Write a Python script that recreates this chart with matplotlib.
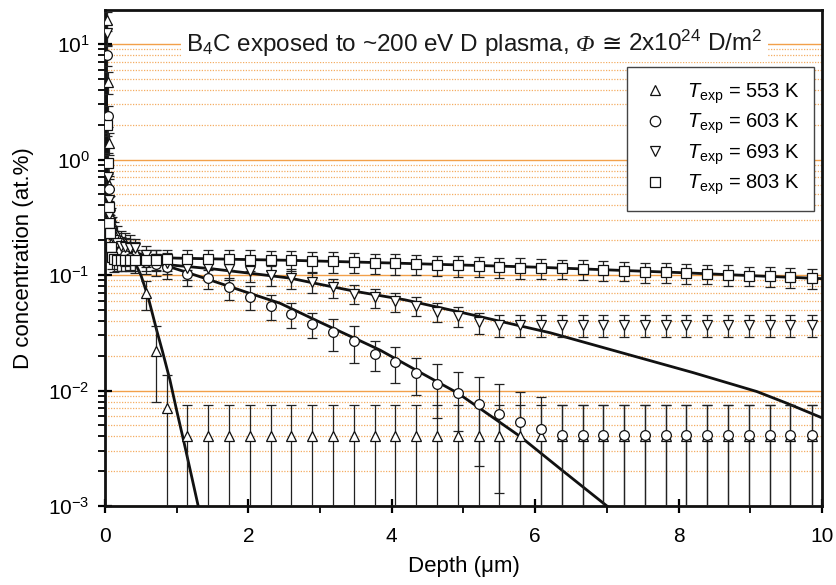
import matplotlib
matplotlib.use('Agg')
import matplotlib.pyplot as plt
from matplotlib.lines import Line2D
from matplotlib.offsetbox import TextArea, HPacker, AnnotationBbox
from matplotlib.ticker import LogLocator, LogFormatterMathtext, MultipleLocator, NullFormatter

plt.rcParams['font.family'] = ['Liberation Sans', 'DejaVu Sans']
plt.rcParams['mathtext.fontset'] = 'custom'
plt.rcParams['mathtext.rm'] = 'Liberation Sans'
plt.rcParams['mathtext.it'] = 'Liberation Sans:italic'
plt.rcParams['mathtext.bf'] = 'Liberation Sans:bold'
plt.rcParams['mathtext.fallback'] = 'stix'

# ---------------- data ----------------
depth_near = [0.03, 0.04, 0.05, 0.06, 0.07, 0.08, 0.10, 0.13, 0.17, 0.22, 0.28, 0.35,
              0.42, 0.57, 0.715, 0.86]
depth_main = [1.15, 1.44, 1.73, 2.02, 2.31, 2.60, 2.89, 3.18, 3.47, 3.76, 4.05, 4.34,
              4.63, 4.92, 5.21, 5.50, 5.79, 6.08, 6.37, 6.66, 6.95, 7.24, 7.53, 7.82,
              8.11, 8.40, 8.69, 8.98, 9.27, 9.56, 9.86]

labels = ['553 K', '603 K', '693 K', '803 K']
markers = ['^', 'o', 'v', 's']

c553 = [16, 4.7, 1.4, 0.6, 0.4, 0.32, 0.27, 0.24, 0.22, 0.2, 0.19, 0.18, 0.16, 0.0695, 0.022, 0.0071,
        0.004, 0.004, 0.004, 0.004, 0.004, 0.004, 0.004, 0.004, 0.004, 0.004, 0.004, 0.004,
        0.004, 0.004, 0.004, 0.004, 0.004, 0.004, 0.004, 0.004, 0.004, 0.004, 0.004, 0.004,
        0.004, 0.004, 0.004, 0.004, 0.004, 0.004, 0.004]
e553 = [3, 1, 0.3, 0.12, 0.08, 0.06, 0.05, 0.05, 0.045, 0.04, 0.04, 0.04, 0.035, 0.02, 0.014, 0.0065,
        0.0035, 0.0035, 0.0035, 0.0035, 0.0035, 0.0035, 0.0035, 0.0035, 0.0035, 0.0035, 0.0035,
        0.0035, 0.0035, 0.0035, 0.0035, 0.0035, 0.0035, 0.0035, 0.0035, 0.0035, 0.0035, 0.0035,
        0.0035, 0.0035, 0.0035, 0.0035, 0.0035, 0.0035, 0.0035, 0.0035, 0.0035]

c603 = [8.0, 2.4, 0.56, 0.4, 0.3, 0.26, 0.22, 0.19, 0.17, 0.16, 0.15, 0.14, 0.135, 0.13, 0.125, 0.117,
        0.103, 0.095, 0.078, 0.065, 0.054, 0.046, 0.0376, 0.032, 0.0268, 0.0207, 0.0177, 0.0141,
        0.0114, 0.0095, 0.0076, 0.0063, 0.0053, 0.0046, 0.0041, 0.0041, 0.0041, 0.0041, 0.0041,
        0.0041, 0.0041, 0.0041, 0.0041, 0.0041, 0.0041, 0.0041, 0.0041]
e603 = [1.6, 0.5, 0.12, 0.08, 0.06, 0.05, 0.045, 0.04, 0.035, 0.035, 0.03, 0.03, 0.03, 0.028, 0.026, 0.024,
        0.022, 0.02, 0.017, 0.015, 0.013, 0.011, 0.009, 0.01, 0.0095, 0.006, 0.006, 0.005,
        0.0056, 0.005, 0.0054, 0.005, 0.0045, 0.0041, 0.0034, 0.0034, 0.0034, 0.0034, 0.0034,
        0.0034, 0.0034, 0.0034, 0.0034, 0.0034, 0.0034, 0.0034, 0.0034]

c693 = [12.4, 0.71, 0.45, 0.33, 0.27, 0.24, 0.22, 0.2, 0.19, 0.18, 0.175, 0.17, 0.171, 0.148, 0.138, 0.128,
        0.116, 0.115, 0.112, 0.108, 0.100, 0.094, 0.087, 0.078, 0.069, 0.064, 0.059, 0.054,
        0.048, 0.044, 0.039, 0.037, 0.037, 0.037, 0.037, 0.037, 0.037, 0.037, 0.037, 0.037,
        0.037, 0.037, 0.037, 0.037, 0.037, 0.037, 0.037]
e693 = [2.5, 0.15, 0.1, 0.07, 0.06, 0.05, 0.045, 0.04, 0.04, 0.035, 0.035, 0.035, 0.035, 0.03, 0.028, 0.026,
        0.025, 0.024, 0.022, 0.021, 0.02, 0.019, 0.017, 0.015, 0.013, 0.012, 0.011, 0.01,
        0.009, 0.0085, 0.008, 0.008, 0.008, 0.008, 0.008, 0.008, 0.008, 0.008, 0.008, 0.008,
        0.008, 0.008, 0.008, 0.008, 0.008, 0.008, 0.008]

c803 = [2.0, 0.94, 0.39, 0.28, 0.23, 0.176, 0.144, 0.137, 0.136, 0.136, 0.136, 0.136, 0.136, 0.136, 0.136, 0.137,
        0.138, 0.137, 0.137, 0.136, 0.135, 0.134, 0.132, 0.131, 0.129, 0.128, 0.126, 0.124,
        0.123, 0.121, 0.120, 0.118, 0.116, 0.115, 0.114, 0.112, 0.111, 0.109, 0.107, 0.106,
        0.104, 0.103, 0.101, 0.099, 0.098, 0.096, 0.094]
e803 = [0.4, 0.19, 0.08, 0.06, 0.05, 0.04, 0.032, 0.03, 0.028, 0.028, 0.028, 0.028, 0.028, 0.028, 0.028, 0.028,
        0.027, 0.027, 0.027, 0.027, 0.026, 0.026, 0.026, 0.026, 0.025, 0.025, 0.025, 0.024,
        0.024, 0.024, 0.024, 0.023, 0.023, 0.023, 0.022, 0.022, 0.022, 0.021, 0.021, 0.021,
        0.020, 0.020, 0.020, 0.019, 0.019, 0.019, 0.018]

# fitted curves
fit_near_x = [0.0, 0.01, 0.02, 0.03, 0.05, 0.08, 0.12, 0.18, 0.26, 0.34]
fit_near_y = [30, 10, 3.5, 1.3, 0.5, 0.3, 0.22, 0.185, 0.165, 0.155]
fit553_x = [0.4, 0.5, 0.6, 0.72, 0.8, 0.906, 1.0, 1.1, 1.2, 1.3, 1.36]
fit553_y = [0.135, 0.1, 0.065, 0.0334, 0.022, 0.0123, 0.0067, 0.0036, 0.0019, 0.001, 0.0007]
fit603_x = [0.4, 0.86, 1.15, 1.5, 2.0, 2.44, 3.0, 3.5, 3.835, 4.4, 4.92, 5.4, 5.79, 6.37, 7.0, 7.1]
fit603_y = [0.145, 0.12, 0.105, 0.089, 0.07, 0.057, 0.039, 0.028, 0.0224, 0.0143, 0.0095, 0.0059,
            0.0040, 0.00205, 0.001, 0.0009]
fit693_x = [0.4, 0.86, 1.5, 2.0, 2.58, 3.0, 3.5, 4.18, 5.0, 6.21, 7.32, 8.2, 9.09, 9.5, 10.0]
fit693_y = [0.16, 0.123, 0.113, 0.104, 0.094, 0.083, 0.072, 0.061, 0.047, 0.0316, 0.0203, 0.0143,
            0.0098, 0.0078, 0.0058]
fit803_x = [0.4, 1.0, 2.0, 2.6, 4.0, 6.0, 8.0, 10.0]
fit803_y = [0.145, 0.14, 0.136, 0.134, 0.127, 0.117, 0.105, 0.093]

title_parts = [r'B$_4$C exposed to ~200 eV D plasma,', 'Φ', '≅', r'2x10$^{24}$ D/m$^2$']
xlabel = 'Depth (μm)'
ylabel = 'D concentration (at.%)'

# ---------------- plot ----------------
fig = plt.figure(figsize=(8.36, 5.85), dpi=100)
ax = fig.add_axes([0.1256, 0.13504, 0.85765, 0.84787])
ax.set_yscale('log')
ax.set_xlim(0, 10)
ax.set_ylim(1e-3, 19.7)
ax.set_axisbelow(True)

ax.yaxis.grid(True, which='major', color='#f2a04a', lw=1.0, ls='-')
ax.yaxis.grid(True, which='minor', color='#f4ad62', lw=0.9, ls=(0, (1, 1.2)))

depth = depth_near + depth_main
series = [(c553, e553), (c603, e603), (c693, e693), (c803, e803)]
fits = [(fit553_x, fit553_y), (fit603_x, fit603_y), (fit693_x, fit693_y), (fit803_x, fit803_y)]

for fx, fy in fits:
    ax.plot(fit_near_x + fx, fit_near_y + fy, color='#111111', lw=2.0, zorder=2.5, solid_capstyle='butt')

for (vals, errs), m in zip(series, markers):
    lo = [min(e, v - 1e-6) for v, e in zip(vals, errs)]
    ax.errorbar(depth, vals, yerr=[lo, errs], fmt=m, ms=7, mfc='white', mec='#111111', mew=0.9,
                ecolor='#222222', elinewidth=0.9, capsize=3.6, capthick=0.9, zorder=3)

# title inside the axes, assembled from parts (italic Phi)
fs = 17.5
base = dict(fontsize=fs, color='#1a1a1a', family=['Liberation Sans', 'DejaVu Sans'])
phi = dict(fontsize=fs, color='#1a1a1a', family=['Liberation Serif', 'DejaVu Serif'], style='italic')
areas = [TextArea(title_parts[0], textprops=base),
         TextArea(title_parts[1], textprops=phi),
         TextArea(title_parts[2], textprops=base),
         TextArea(title_parts[3], textprops=base)]
packer = HPacker(children=areas, align='baseline', pad=0, sep=5)
ab = AnnotationBbox(packer, (5.15, 10.0), xycoords='data', box_alignment=(0.5, 0.5),
                    frameon=True, pad=0.35, bboxprops=dict(facecolor='white', edgecolor='none'))
ab.set_zorder(4)
ax.add_artist(ab)

handles = [Line2D([], [], ls='none', marker=m, ms=7.5, mfc='white', mec='#111111', mew=0.9)
           for m in markers]
leg_labels = [r'$T_{\rm exp}$ = ' + l for l in labels]
leg = ax.legend(handles, leg_labels, loc='upper right', bbox_to_anchor=(0.9888, 0.885),
                borderaxespad=0.0,
                fontsize=14.5, frameon=True, fancybox=False, framealpha=1, edgecolor='#444444',
                handletextpad=0.9, labelspacing=0.3, borderpad=0.7, handlelength=1.4)
leg.get_frame().set_linewidth(1.0)
leg.set_zorder(5)

ax.xaxis.set_major_locator(MultipleLocator(2))
ax.xaxis.set_minor_locator(MultipleLocator(1))
ax.yaxis.set_major_locator(LogLocator(base=10, numticks=10))
ax.yaxis.set_minor_locator(LogLocator(base=10, subs=range(2, 10), numticks=20))
ax.yaxis.set_major_formatter(LogFormatterMathtext())
ax.yaxis.set_minor_formatter(NullFormatter())

ax.tick_params(axis='x', which='major', direction='inout', length=10, width=1.6,
               labelsize=15, pad=10, top=False)
ax.tick_params(axis='y', which='major', direction='inout', length=10, width=1.6,
               labelsize=15, pad=6, right=False)
ax.tick_params(axis='both', which='minor', direction='out', length=5, width=1.3,
               top=False, right=False)
for s in ax.spines.values():
    s.set_linewidth(2.0)
    s.set_color('#111111')

ax.set_xlabel(xlabel, fontsize=16, labelpad=7)
ax.set_ylabel(ylabel, fontsize=16, labelpad=10)

fig.savefig('out.png', dpi=100)
